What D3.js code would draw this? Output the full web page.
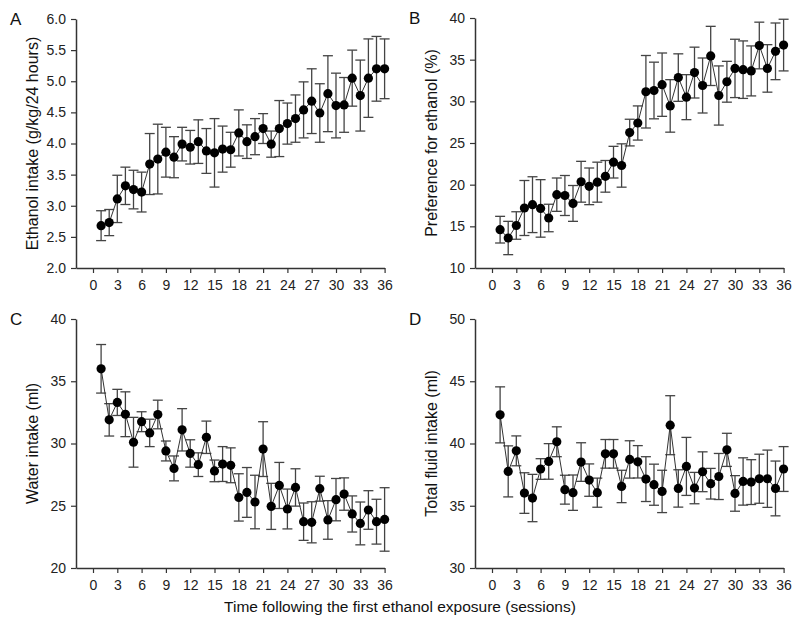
<!DOCTYPE html>
<html><head><meta charset="utf-8">
<script src="https://cdn.jsdelivr.net/npm/d3@7"></script>
<style>body{margin:0;background:#fff;} svg{display:block;font-family:"Liberation Sans",Arial,sans-serif;}</style>
</head><body>
<script>
const sessions = d3.range(1, 37);
const xTicks = [0,3,6,9,12,15,18,21,24,27,30,33,36];

const ethanolMean = [2.68,2.73,3.11,3.32,3.26,3.22,3.67,3.75,3.86,3.78,3.99,3.94,4.03,3.88,3.85,3.91,3.90,4.17,4.03,4.11,4.24,3.99,4.24,4.32,4.40,4.54,4.68,4.49,4.80,4.61,4.62,5.05,4.77,5.05,5.20,5.20];
const ethanolSem  = [0.24,0.21,0.38,0.30,0.31,0.32,0.49,0.56,0.40,0.33,0.27,0.27,0.35,0.36,0.55,0.37,0.28,0.37,0.27,0.29,0.24,0.21,0.45,0.33,0.38,0.45,0.52,0.47,0.61,0.52,0.44,0.45,0.57,0.63,0.52,0.48];

const prefMean = [14.6,13.6,15.1,17.2,17.6,17.15,16.0,18.8,18.7,17.75,20.35,19.8,20.3,21.0,22.7,22.3,26.25,27.4,31.15,31.3,32.0,29.45,32.85,30.5,33.45,31.9,35.45,30.7,32.35,33.95,33.8,33.65,36.7,33.95,36.0,36.75];
const prefSem  = [1.6,2.0,1.65,3.3,3.35,3.45,1.65,2.0,2.4,2.15,2.45,2.2,2.4,1.9,1.9,2.6,1.6,2.05,4.35,3.4,3.8,3.15,2.85,2.7,3.05,3.3,3.55,3.55,2.45,3.5,3.45,3.0,2.8,2.85,3.4,3.1];

const waterMean = [36.0,31.9,33.3,32.35,30.1,31.75,30.85,32.33,29.4,28.0,31.1,29.2,28.3,30.5,27.8,28.35,28.25,25.67,26.07,25.3,29.55,24.95,26.63,24.74,26.47,23.72,23.67,26.37,23.86,25.49,25.94,24.34,23.58,24.66,23.72,23.9];
const waterSem  = [1.95,1.3,1.05,1.8,2.0,0.8,1.1,1.15,0.8,1.0,1.7,1.1,0.95,1.3,0.87,1.4,1.4,1.9,2.0,2.15,2.2,1.85,1.85,1.6,1.5,1.5,1.65,1.0,1.55,1.7,1.3,1.45,1.72,1.55,1.8,2.55];

const totalMean = [42.3,37.76,39.41,36.02,35.62,37.95,38.56,40.14,36.29,36.05,38.51,37.06,36.05,39.17,39.17,36.55,38.72,38.53,37.14,36.69,36.15,41.47,36.39,38.16,36.42,37.73,36.77,37.35,39.49,35.99,36.95,36.9,37.17,37.17,36.39,37.95];
const totalSem  = [2.25,2.05,1.2,1.63,1.9,0.83,1.43,1.2,1.16,1.42,1.55,1.3,1.17,1.15,1.15,1.3,1.5,1.3,1.8,1.65,1.7,2.37,1.5,2.33,1.26,1.6,1.23,1.85,1.33,1.43,1.9,1.8,1.97,2.3,2.2,1.8];

const ticksA = [2.0,2.5,3.0,3.5,4.0,4.5,5.0,5.5,6.0];
const ticksB = [10,15,20,25,30,35,40];
const ticksC = [20,25,30,35,40];
const ticksD = [30,35,40,45,50];

const panels = [
  {letter:"A", title:"Ethanol intake (g/kg/24 hours)", mean:ethanolMean, sem:ethanolSem, ticks:ticksA, fmt:d3.format(".1f"), left:76, top:19, bottom:268, titleX:33},
  {letter:"B", title:"Preference for ethanol (%)", mean:prefMean, sem:prefSem, ticks:ticksB, fmt:d3.format("d"), left:475, top:18, bottom:268, titleX:432},
  {letter:"C", title:"Water intake (ml)", mean:waterMean, sem:waterSem, ticks:ticksC, fmt:d3.format("d"), left:76, top:319, bottom:568, titleX:33},
  {letter:"D", title:"Total fluid intake (ml)", mean:totalMean, sem:totalSem, ticks:ticksD, fmt:d3.format("d"), left:475, top:319, bottom:568, titleX:432}
];

const W = 800, H = 637;
const svg = d3.select("body").append("svg").attr("width", W).attr("height", H);
const axisColor = "#333";

panels.forEach(p => {
  const x0 = p.left + 17, pxPer = 8.1;
  const x = d3.scaleLinear().domain([0, 36]).range([x0, x0 + 36*pxPer]);
  const xMin = x.invert(p.left);
  x.domain([xMin, 36]).range([p.left, x0 + 36*pxPer]);
  const y = d3.scaleLinear().domain([p.ticks[0], p.ticks[p.ticks.length-1]]).range([p.bottom, p.top]);
  const g = svg.append("g");

  const xAxis = g.append("g").attr("transform", `translate(0,${p.bottom})`)
    .call(d3.axisBottom(x).tickValues(xTicks).tickSizeInner(5).tickSizeOuter(0).tickPadding(7));
  const yAxis = g.append("g").attr("transform", `translate(${p.left},0)`)
    .call(d3.axisLeft(y).tickValues(p.ticks).tickFormat(p.fmt).tickSizeInner(5).tickSizeOuter(0).tickPadding(5));
  [xAxis, yAxis].forEach(a => {
    a.select(".domain").attr("stroke", axisColor).attr("stroke-width", 1.5);
    a.selectAll(".tick line").attr("stroke", axisColor).attr("stroke-width", 1.2);
    a.selectAll(".tick text").attr("fill", "#222").style("font-size", "14px").style("font-family", "Liberation Sans, Arial, sans-serif");
  });

  const data = sessions.map((s, i) => ({s, m: p.mean[i], e: p.sem[i]}));

  const eb = g.append("g").attr("stroke", "#444").attr("stroke-width", 1.3).attr("fill", "none");
  data.forEach(d => {
    const cx = x(d.s), yt = y(d.m + d.e), yb = y(d.m - d.e);
    eb.append("line").attr("x1", cx).attr("x2", cx).attr("y1", yt).attr("y2", yb);
    eb.append("line").attr("x1", cx-5).attr("x2", cx+5).attr("y1", yt).attr("y2", yt);
    eb.append("line").attr("x1", cx-5).attr("x2", cx+5).attr("y1", yb).attr("y2", yb);
  });

  g.append("path").datum(data)
    .attr("d", d3.line().x(d => x(d.s)).y(d => y(d.m)))
    .attr("fill", "none").attr("stroke", "#333").attr("stroke-width", 1);

  g.append("g").selectAll("circle").data(data).join("circle")
    .attr("cx", d => x(d.s)).attr("cy", d => y(d.m)).attr("r", 4.6).attr("fill", "#000");

  svg.append("text").attr("x", p.left - 66).attr("y", p.top + 6).text(p.letter)
    .style("font-size", "17px").attr("fill", "#111");

  svg.append("text").attr("transform", `translate(${p.titleX + 5},${(p.top + p.bottom)/2}) rotate(-90)`)
    .attr("text-anchor", "middle").text(p.title).style("font-size", "16px").attr("fill", "#111");
});

svg.append("text").attr("x", 400).attr("y", 612).attr("text-anchor", "middle")
  .text("Time following the first ethanol exposure (sessions)").style("font-size", "15.5px").attr("fill", "#111");
</script>
</body></html>
